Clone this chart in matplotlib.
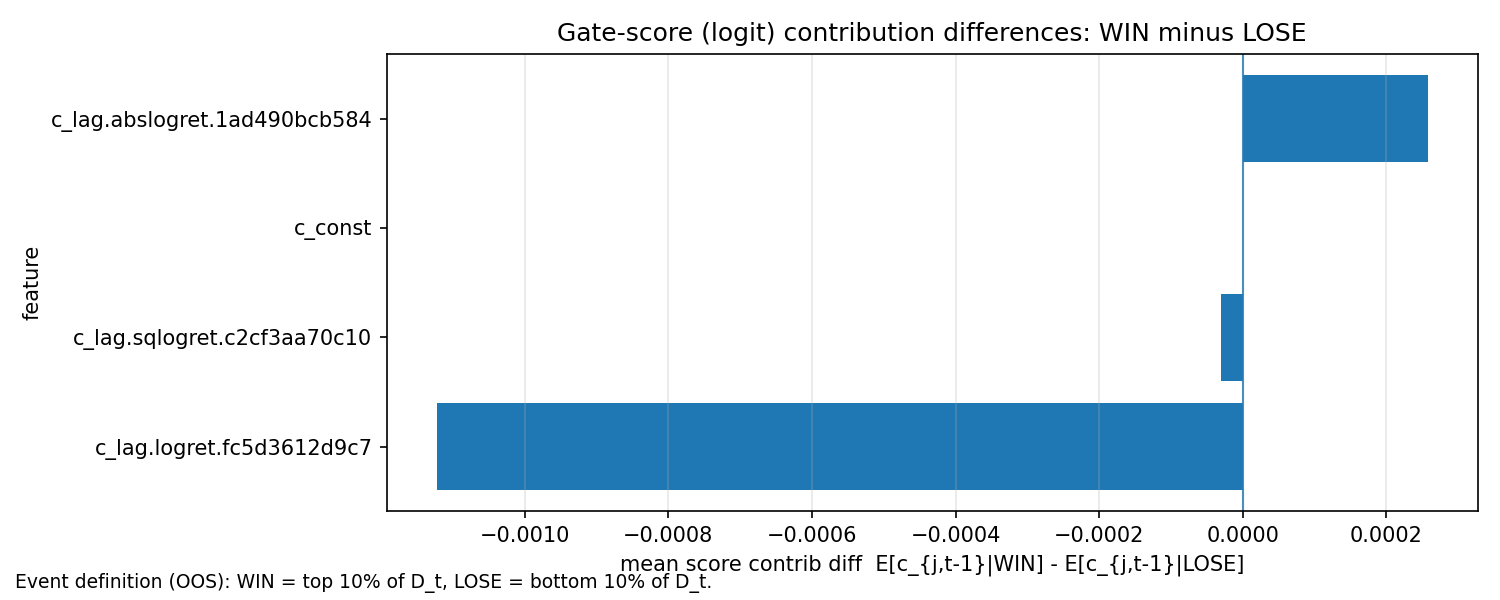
import numpy as np
import matplotlib
matplotlib.use("Agg")
import matplotlib.pyplot as plt

# features sorted by contribution difference (bottom to top)
features = [
    "c_lag.logret.fc5d3612d9c7",
    "c_lag.sqlogret.c2cf3aa70c10",
    "c_const",
    "c_lag.abslogret.1ad490bcb584",
]
diffs = [-0.0011226, -0.0000306, 0.0, 0.0002577]

fig, ax = plt.subplots(figsize=(10, 4), dpi=150)
y = np.arange(len(features))
ax.barh(y, diffs, color="C0")
ax.set_yticks(y)
ax.set_yticklabels(features)
ax.axvline(0.0, color="C0", linewidth=1, alpha=0.8)
ax.grid(axis="x", alpha=0.3)
ax.set_title("Gate-score (logit) contribution differences: WIN minus LOSE")
ax.set_xlabel("mean score contrib diff  E[c_{j,t-1}|WIN] - E[c_{j,t-1}|LOSE]")
ax.set_ylabel("feature")

fig.text(0.01, 0.012, "Event definition (OOS): WIN = top 10% of D_t, LOSE = bottom 10% of D_t.",
         fontsize=9, ha="left", va="bottom")
fig.subplots_adjust(left=0.258, right=0.985, top=0.91, bottom=0.148)
fig.savefig("out.png", dpi=150)
